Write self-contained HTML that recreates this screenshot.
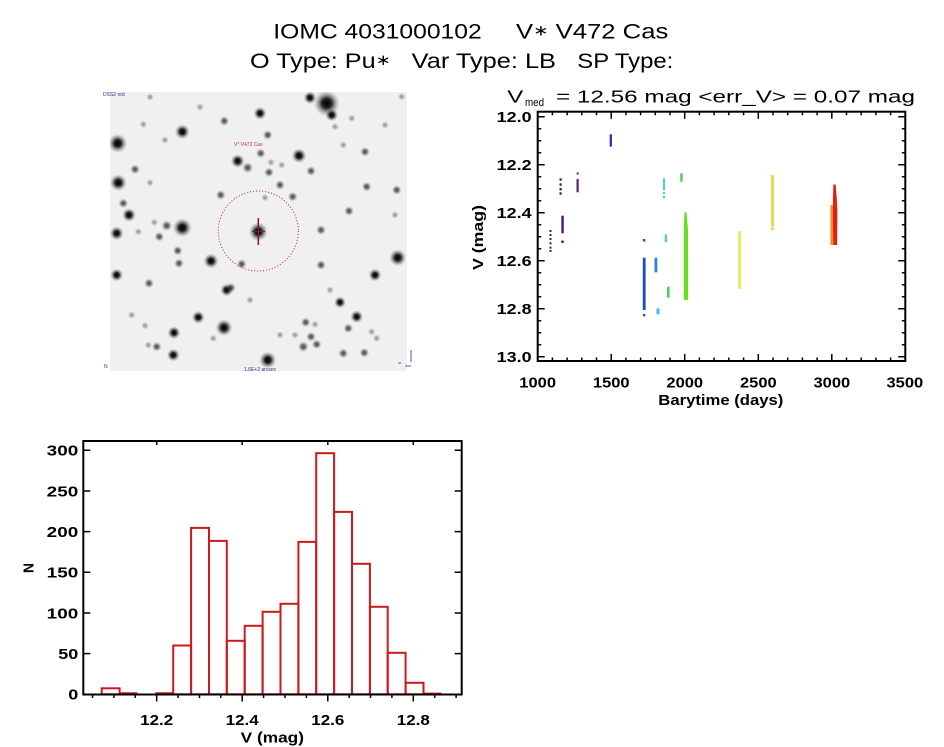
<!DOCTYPE html>
<html>
<head>
<meta charset="utf-8">
<style>
html,body{margin:0;padding:0;background:#fff;}
svg{display:block;}
text{font-family:"Liberation Sans","DejaVu Sans",sans-serif;fill:#000;}
.t{font-size:21px;}
.tk{font-size:15px;font-weight:bold;}
</style>
</head>
<body>
<svg width="944" height="747" viewBox="0 0 944 747" xmlns="http://www.w3.org/2000/svg">
<rect x="0" y="0" width="944" height="747" fill="#fff"/>
<defs>
<radialGradient id="s">
<stop offset="0" stop-color="#000" stop-opacity="1"/>
<stop offset="0.35" stop-color="#080808" stop-opacity="0.9"/>
<stop offset="0.65" stop-color="#333" stop-opacity="0.45"/>
<stop offset="1" stop-color="#777" stop-opacity="0"/>
</radialGradient>
<clipPath id="img"><rect x="110" y="92" width="297" height="279"/></clipPath>
</defs>

<!-- Titles -->
<text class="t" x="273.3" y="38.7" textLength="208.4" lengthAdjust="spacingAndGlyphs">IOMC 4031000102</text>
<text class="t" x="516" y="38.7" textLength="152.3" lengthAdjust="spacingAndGlyphs">V<tspan font-size="15" dy="-3">∗</tspan><tspan dy="3"> V472 Cas</tspan></text>
<text class="t" x="250" y="68" textLength="140.7" lengthAdjust="spacingAndGlyphs">O Type: Pu<tspan font-size="15" dy="-3">∗</tspan></text>
<text class="t" x="411.7" y="68" textLength="144.3" lengthAdjust="spacingAndGlyphs">Var Type: LB</text>
<text class="t" x="577.3" y="68" textLength="96" lengthAdjust="spacingAndGlyphs">SP Type:</text>

<!-- Star image -->
<g clip-path="url(#img)">
<rect x="110" y="92" width="297" height="279" fill="#f0f0f0"/>
<g fill="url(#s)">
<circle cx="326.7" cy="103.3" r="13"/>
<circle cx="331.7" cy="115" r="6.5"/>
<circle cx="310" cy="97.7" r="6.5"/>
<circle cx="260" cy="113.3" r="6.5"/>
<circle cx="182.3" cy="131.7" r="7.5"/>
<circle cx="117.7" cy="143.3" r="9.5"/>
<circle cx="299" cy="155.7" r="7.5"/>
<circle cx="237.7" cy="161" r="7"/>
<circle cx="118.3" cy="182.7" r="8.5"/>
<circle cx="129" cy="215" r="7"/>
<circle cx="182.3" cy="227.7" r="9.5"/>
<circle cx="116.7" cy="233.3" r="7"/>
<circle cx="258.3" cy="231.7" r="9.5"/>
<circle cx="211" cy="261" r="7.5"/>
<circle cx="397.7" cy="257.7" r="8.5"/>
<circle cx="375" cy="275" r="6.5"/>
<circle cx="116.7" cy="275" r="6.5"/>
<circle cx="226.7" cy="290" r="6.5"/>
<circle cx="340" cy="302.3" r="6"/>
<circle cx="198.3" cy="317.3" r="6.5"/>
<circle cx="356.7" cy="316.7" r="6.5"/>
<circle cx="224" cy="327.7" r="8.5"/>
<circle cx="174" cy="332.7" r="6.5"/>
<circle cx="173.3" cy="355" r="6.5"/>
<circle cx="267.7" cy="360" r="8.5"/>
</g>
<g fill="url(#s)" opacity="0.65">
<circle cx="224.3" cy="121" r="5"/>
<circle cx="267.7" cy="135" r="5"/>
<circle cx="247.7" cy="167.7" r="5.5"/>
<circle cx="260.7" cy="153.3" r="5"/>
<circle cx="269" cy="172.3" r="5"/>
<circle cx="311" cy="171" r="5"/>
<circle cx="135" cy="169.3" r="5"/>
<circle cx="365" cy="151.7" r="5"/>
<circle cx="366.7" cy="186.7" r="5"/>
<circle cx="396.7" cy="190" r="5"/>
<circle cx="280" cy="185" r="5"/>
<circle cx="292.7" cy="196.7" r="5"/>
<circle cx="220.7" cy="195" r="5"/>
<circle cx="123.3" cy="203.3" r="5"/>
<circle cx="349" cy="211" r="5"/>
<circle cx="166.7" cy="225.7" r="5.5"/>
<circle cx="159.3" cy="236.7" r="5"/>
<circle cx="321" cy="230" r="5"/>
<circle cx="177.7" cy="250.7" r="5"/>
<circle cx="179" cy="263.3" r="5"/>
<circle cx="241.7" cy="264" r="5"/>
<circle cx="321" cy="265" r="5"/>
<circle cx="149" cy="283.3" r="5"/>
<circle cx="231" cy="287.7" r="5"/>
<circle cx="305.7" cy="322.3" r="5"/>
<circle cx="311" cy="336.7" r="5"/>
<circle cx="316.7" cy="344.3" r="5"/>
<circle cx="303.3" cy="346.7" r="5.5"/>
<circle cx="348.3" cy="328.3" r="5"/>
<circle cx="156.7" cy="346.7" r="5"/>
<circle cx="343.3" cy="353.3" r="5"/>
<circle cx="364.3" cy="352.7" r="5"/>
</g>
<g fill="url(#s)" opacity="0.35">
<circle cx="271" cy="162.3" r="4"/>
<circle cx="281.7" cy="165" r="4"/>
<circle cx="150" cy="182.7" r="4"/>
<circle cx="265" cy="197.7" r="4"/>
<circle cx="154.3" cy="222.3" r="4"/>
<circle cx="138.3" cy="231.7" r="4"/>
<circle cx="145" cy="325.7" r="4"/>
<circle cx="131.7" cy="315" r="4"/>
<circle cx="315" cy="324.3" r="4"/>
<circle cx="295" cy="335" r="4"/>
<circle cx="280" cy="335" r="4"/>
<circle cx="148.3" cy="345" r="4"/>
<circle cx="213.3" cy="338.3" r="4"/>
<circle cx="371.7" cy="331.7" r="4"/>
<circle cx="376.7" cy="338.3" r="4"/>
<circle cx="401.7" cy="96.7" r="4"/>
<circle cx="351.7" cy="118.3" r="4"/>
<circle cx="335" cy="126.7" r="4"/>
<circle cx="343.3" cy="145" r="4"/>
<circle cx="165" cy="140" r="4"/>
<circle cx="143.3" cy="124.3" r="4"/>
<circle cx="200" cy="107" r="4"/>
<circle cx="150" cy="97" r="4"/>
<circle cx="385" cy="125" r="4"/>
<circle cx="395" cy="215" r="4"/>
<circle cx="330" cy="290" r="4"/>
<circle cx="250" cy="300" r="4"/>
</g>
</g>
<circle cx="258.3" cy="231" r="40" fill="none" stroke="#b02828" stroke-width="1" stroke-dasharray="1 2"/>
<line x1="258.3" y1="218" x2="258.3" y2="245" stroke="#7a1840" stroke-width="1.5"/>
<line x1="252" y1="231.5" x2="265" y2="231.5" stroke="#7a1840" stroke-width="1"/>
<text x="103" y="96" font-size="5" style="fill:#223388">DSS2 red</text>
<text x="234" y="146" font-size="5" style="fill:#c03030">V* V472 Cas</text>
<text x="244" y="371" font-size="5" style="fill:#223388">1.6E+2 arcsec</text>
<text x="104" y="368" font-size="5" style="fill:#223388">N</text>
<path d="M411 350v12M405 366h6M398 363h3" stroke="#223388" stroke-width="0.8" fill="none"/>

<!-- Light curve -->
<text x="507.3" y="102.7" font-size="17.5" textLength="16" lengthAdjust="spacingAndGlyphs">V</text>
<text x="525" y="106" font-size="11" textLength="19" lengthAdjust="spacingAndGlyphs">med</text>
<text x="556" y="102.7" font-size="17.5" textLength="359" lengthAdjust="spacingAndGlyphs">= 12.56 mag &lt;err_V&gt; = 0.07 mag</text>

<g>
<rect x="549.5" y="230" width="2" height="2" fill="#4b1a72"/>
<rect x="549.5" y="234" width="2" height="2" fill="#4b1a72"/>
<rect x="549.5" y="238" width="2" height="2" fill="#4b1a72"/>
<rect x="549.5" y="242.3" width="2" height="2" fill="#4b1a72"/>
<rect x="549.5" y="246.7" width="2" height="2" fill="#4b1a72"/>
<rect x="549.5" y="250" width="2" height="2" fill="#4b1a72"/>
<rect x="559.5" y="178.3" width="2.2" height="2.5" fill="#4b1a72"/>
<rect x="559.5" y="183.3" width="2.2" height="2.5" fill="#4b1a72"/>
<rect x="559.5" y="188" width="2.2" height="2.5" fill="#4b1a72"/>
<rect x="559.5" y="192.3" width="2.2" height="2.5" fill="#4b1a72"/>
<rect x="561.3" y="215.7" width="2.5" height="17.6" fill="#521c78"/>
<rect x="561.3" y="240.5" width="2.5" height="2.5" fill="#521c78"/>
<rect x="576.7" y="172.5" width="2" height="2" fill="#5a2080"/>
<rect x="576.5" y="179" width="2.2" height="13.3" fill="#5a2080"/>
<rect x="609.7" y="134.3" width="2.2" height="12.4" fill="#2626b8"/>
<rect x="642.9" y="239" width="2.5" height="2.5" fill="#1c4ac4"/>
<rect x="642.8" y="257.7" width="2.8" height="52.3" fill="#1c4ac4"/>
<rect x="643" y="314" width="2.3" height="2.3" fill="#1c4ac4"/>
<rect x="654.5" y="257.7" width="2.8" height="14.6" fill="#2a86d8"/>
<rect x="656.5" y="308.3" width="3" height="6" fill="#38c4e6"/>
<rect x="663" y="178.3" width="2" height="12" fill="#48d2c4"/>
<rect x="663" y="192" width="2" height="2.2" fill="#48d2c4"/>
<rect x="663" y="196" width="2" height="2.3" fill="#48d2c4"/>
<rect x="664.7" y="234.3" width="2.2" height="8" fill="#48d4a8"/>
<rect x="667" y="286.7" width="2.6" height="11" fill="#48d070"/>
<rect x="680.2" y="173.3" width="2.5" height="8.4" fill="#58cc58"/>
<polygon points="684.5,212.3 686.5,212.3 688,230 688.2,300 683.8,300 683.8,230" fill="#66e020"/>
<rect x="738.3" y="231" width="2.4" height="58" fill="#e6ea40"/>
<rect x="771.2" y="175" width="2.6" height="51.5" fill="#f0d030"/>
<rect x="771.2" y="227.3" width="2.6" height="2.7" fill="#f0c830"/>
<rect x="830.4" y="205" width="2.6" height="40" fill="#f09020"/>
<polygon points="833.4,184.5 835.6,184.5 836.6,196 837.4,210 837.2,245 833.2,245 832.9,215 833,196" fill="#e02010"/>
</g>

<rect x="537.7" y="111.7" width="367.6" height="249.3" fill="none" stroke="#000" stroke-width="2"/>
<path stroke="#000" stroke-width="1.5" fill="none" d="
M611.2 361v-7M684.7 361v-7M758.3 361v-7M831.8 361v-7
M552.4 361v-3.5M567.1 361v-3.5M581.8 361v-3.5M596.5 361v-3.5M625.9 361v-3.5M640.6 361v-3.5M655.3 361v-3.5M670 361v-3.5M699.4 361v-3.5M714.1 361v-3.5M728.8 361v-3.5M743.6 361v-3.5M773 361v-3.5M787.7 361v-3.5M802.4 361v-3.5M817.1 361v-3.5M846.5 361v-3.5M861.2 361v-3.5M875.9 361v-3.5M890.6 361v-3.5
M611.2 111.7v7M684.7 111.7v7M758.3 111.7v7M831.8 111.7v7
M552.4 111.7v3.5M567.1 111.7v3.5M581.8 111.7v3.5M596.5 111.7v3.5M625.9 111.7v3.5M640.6 111.7v3.5M655.3 111.7v3.5M670 111.7v3.5M699.4 111.7v3.5M714.1 111.7v3.5M728.8 111.7v3.5M743.6 111.7v3.5M773 111.7v3.5M787.7 111.7v3.5M802.4 111.7v3.5M817.1 111.7v3.5M846.5 111.7v3.5M861.2 111.7v3.5M875.9 111.7v3.5M890.6 111.7v3.5
M537.7 116.7h7M537.7 164.7h7M537.7 212.7h7M537.7 260.7h7M537.7 308.7h7M537.7 356.7h7
M537.7 128.7h3.5M537.7 140.7h3.5M537.7 152.7h3.5M537.7 176.7h3.5M537.7 188.7h3.5M537.7 200.7h3.5M537.7 224.7h3.5M537.7 236.7h3.5M537.7 248.7h3.5M537.7 272.7h3.5M537.7 284.7h3.5M537.7 296.7h3.5M537.7 320.7h3.5M537.7 332.7h3.5M537.7 344.7h3.5
M905.3 116.7h-7M905.3 164.7h-7M905.3 212.7h-7M905.3 260.7h-7M905.3 308.7h-7M905.3 356.7h-7
M905.3 128.7h-3.5M905.3 140.7h-3.5M905.3 152.7h-3.5M905.3 176.7h-3.5M905.3 188.7h-3.5M905.3 200.7h-3.5M905.3 224.7h-3.5M905.3 236.7h-3.5M905.3 248.7h-3.5M905.3 272.7h-3.5M905.3 284.7h-3.5M905.3 296.7h-3.5M905.3 320.7h-3.5M905.3 332.7h-3.5M905.3 344.7h-3.5
"/>
<g class="tk">
<text class="tk" x="496.7" y="122" textLength="35" lengthAdjust="spacingAndGlyphs">12.0</text>
<text class="tk" x="496.7" y="170" textLength="35" lengthAdjust="spacingAndGlyphs">12.2</text>
<text class="tk" x="496.7" y="218" textLength="35" lengthAdjust="spacingAndGlyphs">12.4</text>
<text class="tk" x="496.7" y="266" textLength="35" lengthAdjust="spacingAndGlyphs">12.6</text>
<text class="tk" x="496.7" y="314" textLength="35" lengthAdjust="spacingAndGlyphs">12.8</text>
<text class="tk" x="496.7" y="362" textLength="35" lengthAdjust="spacingAndGlyphs">13.0</text>
<text class="tk" x="519.3" y="387.3" textLength="36.7" lengthAdjust="spacingAndGlyphs">1000</text>
<text class="tk" x="592.9" y="387.3" textLength="36.7" lengthAdjust="spacingAndGlyphs">1500</text>
<text class="tk" x="666.4" y="387.3" textLength="36.7" lengthAdjust="spacingAndGlyphs">2000</text>
<text class="tk" x="740" y="387.3" textLength="36.7" lengthAdjust="spacingAndGlyphs">2500</text>
<text class="tk" x="813.5" y="387.3" textLength="36.7" lengthAdjust="spacingAndGlyphs">3000</text>
<text class="tk" x="886.5" y="387.3" textLength="36.7" lengthAdjust="spacingAndGlyphs">3500</text>
<text class="tk" x="658.3" y="405" textLength="125" lengthAdjust="spacingAndGlyphs">Barytime (days)</text>
<text class="tk" transform="translate(483,270) rotate(-90)" x="0" y="0" textLength="65" lengthAdjust="spacingAndGlyphs">V (mag)</text>
</g>

<!-- Histogram -->
<g fill="none" stroke="#cc1a1a" stroke-width="2">
<rect x="101.7" y="688.3" width="17.9" height="6"/>
<line x1="119.6" y1="693.3" x2="137.4" y2="693.3"/>
<line x1="155.3" y1="693.3" x2="173.2" y2="693.3"/>
<rect x="173.2" y="645.5" width="17.9" height="48.8"/>
<rect x="191.1" y="527.9" width="17.9" height="166.4"/>
<rect x="209" y="540.9" width="17.8" height="153.4"/>
<rect x="226.8" y="640.8" width="17.9" height="53.5"/>
<rect x="244.7" y="625.8" width="17.9" height="68.5"/>
<rect x="262.6" y="611.8" width="17.9" height="82.5"/>
<rect x="280.5" y="603.8" width="17.9" height="90.5"/>
<rect x="298.4" y="541.9" width="17.8" height="152.4"/>
<rect x="316.2" y="453.2" width="17.9" height="241.1"/>
<rect x="334.1" y="511.9" width="17.9" height="182.4"/>
<rect x="352" y="563.8" width="17.9" height="130.5"/>
<rect x="369.9" y="606.8" width="17.8" height="87.5"/>
<rect x="387.7" y="652.8" width="17.9" height="41.5"/>
<rect x="405.6" y="682.8" width="17.9" height="11.5"/>
<line x1="423.5" y1="693.6" x2="441.4" y2="693.6"/>
</g>
<rect x="83.3" y="441" width="378.4" height="253.5" fill="none" stroke="#000" stroke-width="2"/>
<path stroke="#000" stroke-width="1.5" fill="none" d="
M83.3 450.3h7M83.3 491h7M83.3 531.6h7M83.3 572.3h7M83.3 613h7M83.3 653.6h7
M461.7 450.3h-7M461.7 491h-7M461.7 531.6h-7M461.7 572.3h-7M461.7 613h-7M461.7 653.6h-7
M156.7 694.5v7M242.2 694.5v7M327.8 694.5v7M413.3 694.5v7
M92.5 694.5v3.5M113.9 694.5v3.5M135.3 694.5v3.5M178.1 694.5v3.5M199.5 694.5v3.5M220.8 694.5v3.5M263.6 694.5v3.5M285 694.5v3.5M306.4 694.5v3.5M349.2 694.5v3.5M370.5 694.5v3.5M391.9 694.5v3.5M434.7 694.5v3.5M456.1 694.5v3.5
M156.7 441v4M242.2 441v4M327.8 441v4M413.3 441v4
"/>
<text class="tk" x="46.7" y="455.6" textLength="31.6" lengthAdjust="spacingAndGlyphs">300</text>
<text class="tk" x="46.7" y="496.3" textLength="31.6" lengthAdjust="spacingAndGlyphs">250</text>
<text class="tk" x="46.7" y="536.9" textLength="31.6" lengthAdjust="spacingAndGlyphs">200</text>
<text class="tk" x="46.7" y="577.6" textLength="31.6" lengthAdjust="spacingAndGlyphs">150</text>
<text class="tk" x="46.7" y="618.3" textLength="31.6" lengthAdjust="spacingAndGlyphs">100</text>
<text class="tk" x="58.3" y="658.9" textLength="20" lengthAdjust="spacingAndGlyphs">50</text>
<text class="tk" x="68.3" y="699.6" textLength="10" lengthAdjust="spacingAndGlyphs">0</text>
<text class="tk" x="140.2" y="725" textLength="33" lengthAdjust="spacingAndGlyphs">12.2</text>
<text class="tk" x="225.7" y="725" textLength="33" lengthAdjust="spacingAndGlyphs">12.4</text>
<text class="tk" x="311.3" y="725" textLength="33" lengthAdjust="spacingAndGlyphs">12.6</text>
<text class="tk" x="396.8" y="725" textLength="33" lengthAdjust="spacingAndGlyphs">12.8</text>
<text class="tk" x="240.7" y="742.7" textLength="63.3" lengthAdjust="spacingAndGlyphs">V (mag)</text>
<text class="tk" transform="translate(33.3,573) rotate(-90)" x="0" y="0" textLength="10" lengthAdjust="spacingAndGlyphs">N</text>
</svg>
</body>
</html>
